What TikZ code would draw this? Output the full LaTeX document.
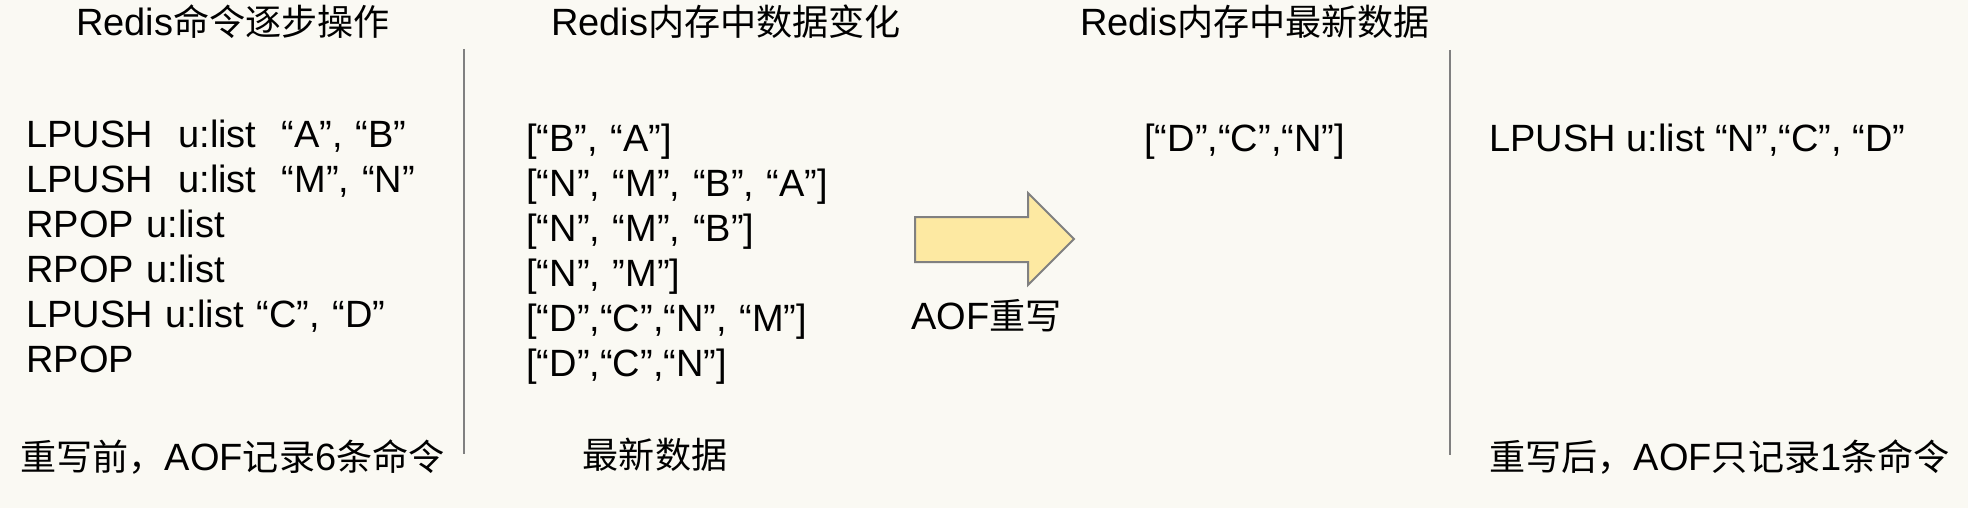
\documentclass[tikz,border=0pt]{standalone}
\usepackage{fontspec}
\setmainfont{Liberation Sans}
\newfontfamily\cjk[Scale=0.95]{Noto Sans CJK SC}
\usetikzlibrary{positioning}
\definecolor{paper}{HTML}{FAF9F3}
\definecolor{arrowfill}{HTML}{FDE9A2}
\definecolor{arrowline}{HTML}{808080}
\newcommand{\zh}[1]{{\cjk #1}}
\tikzset{
	node distance=22.5pt, % spacing between two lines of a list. Change if necessary.
	txt/.style={inner sep=0pt, text height=13.5pt, text depth=0pt, font=\fontsize{19}{23}\selectfont}, % every text line
	cmd/.style={txt, text width=200pt, align=left}, % one line of the command list
	val/.style={txt, text width=160pt, align=left}, % one line of the data list
	sep/.style={draw=gray, line width=0.7pt}, % vertical separators
	bigarrow/.style={draw=arrowline, line width=1pt, fill=arrowfill, line join=miter},
}
\begin{document}
\begin{tikzpicture}[x=0.5pt, y=-0.5pt]
	\fill[paper] (0,0) rectangle (1968,508);
	\useasboundingbox (0,0) rectangle (1968,508);
	% titles
	\node[txt] (t1) at (233,22) {Redis\zh{命令逐步操作}};
	\node[txt] (t2) at (726,22) {Redis\zh{内存中数据变化}};
	\node[txt] (t3) at (1255,22) {Redis\zh{内存中最新数据}};
	% commands before the rewrite
	\node[cmd, anchor=west] (c1) at (26,134) {LPUSH\ \ u:list\ \ “A”, “B”};
	\node[cmd, below of=c1] (c2) {LPUSH\ \ u:list\ \ “M”, “N”};
	\node[cmd, below of=c2] (c3) {RPOP u:list};
	\node[cmd, below of=c3] (c4) {RPOP u:list};
	\node[cmd, below of=c4] (c5) {LPUSH u:list “C”, “D”};
	\node[cmd, below of=c5] (c6) {RPOP};
	\node[txt, anchor=west] (before) at (20,457) {\zh{重写前，}AOF\zh{记录}6\zh{条命令}};
	% data in memory
	\node[val, anchor=west] (d1) at (526,138) {[“B”, “A”]};
	\node[val, below of=d1] (d2) {[“N”, “M”, “B”, “A”]};
	\node[val, below of=d2] (d3) {[“N”, “M”, “B”]};
	\node[val, below of=d3] (d4) {[“N”, ”M”]};
	\node[val, below of=d4] (d5) {[“D”,“C”,“N”, “M”]};
	\node[val, below of=d5] (d6) {[“D”,“C”,“N”]};
	\node[txt] (latest) at (655,455) {\zh{最新数据}};
	% separators
	\coordinate (s1a) at (464,49);
	\coordinate (s1b) at (464,454);
	\coordinate (s2a) at (1450,50);
	\coordinate (s2b) at (1450,455);
	\draw[sep] (s1a) -- (s1b);
	\draw[sep] (s2a) -- (s2b);
	% rewrite arrow
	\draw[bigarrow] (915,217) -- (1028,217) -- (1028,193) -- (1074,239) -- (1028,285) -- (1028,262) -- (915,262) -- cycle;
	\node[txt, anchor=west] (aof) at (911,316) {AOF\zh{重写}};
	% after the rewrite
	\node[txt, anchor=west] (res) at (1144,138) {[“D”,“C”,“N”]};
	\node[txt, anchor=west] (cmdnew) at (1489,138) {LPUSH u:list “N”,“C”, “D”};
	\node[txt, anchor=west] (after) at (1489,457) {\zh{重写后，}AOF\zh{只记录}1\zh{条命令}};
\end{tikzpicture}
\end{document}
